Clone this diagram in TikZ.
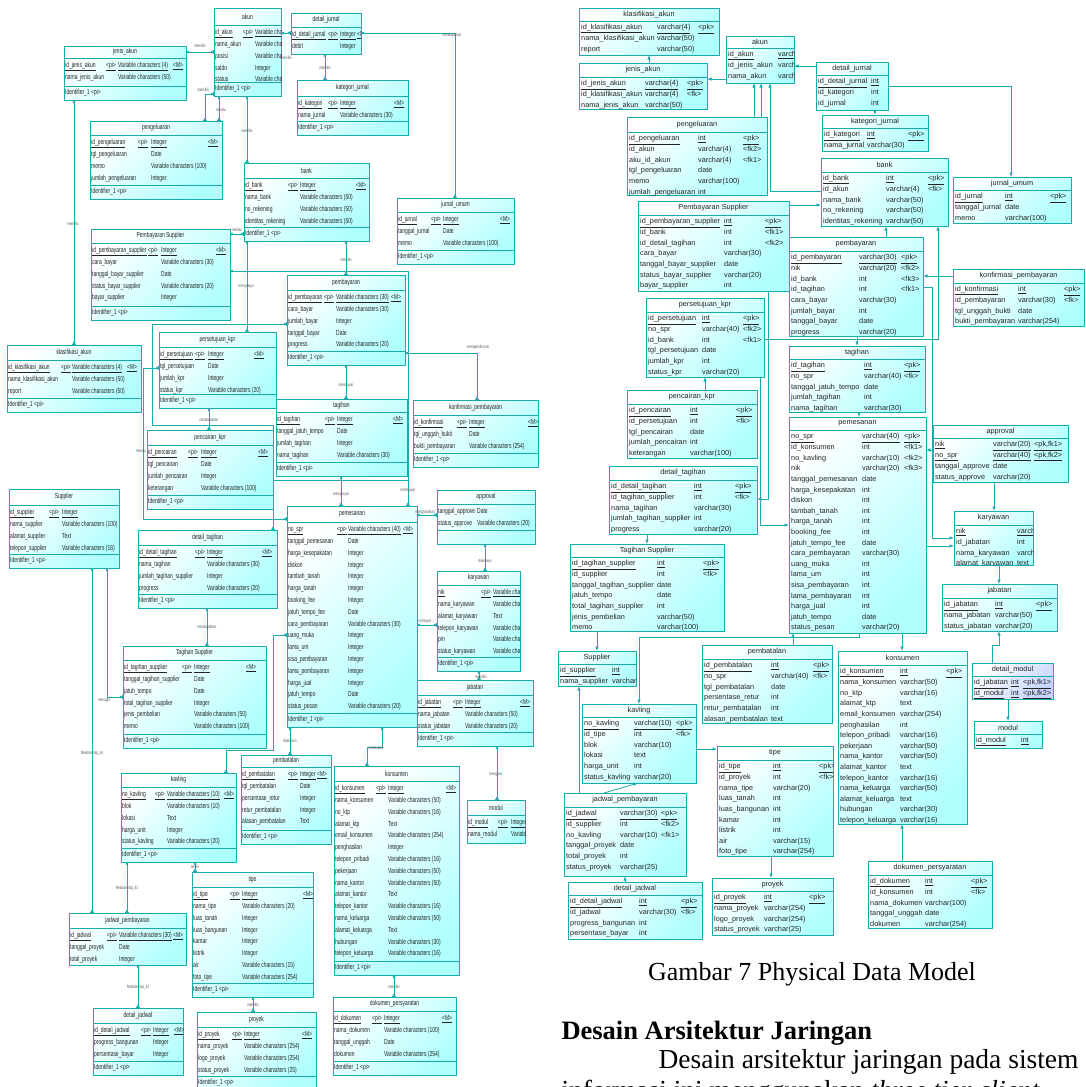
\documentclass[tikz,border=0pt]{standalone}
\usepackage{fontspec}
\usepackage{array}
\setmainfont{Liberation Serif}
\newfontfamily\rsans{Liberation Sans}
\newfontfamily\csans[FakeStretch=0.68]{Liberation Sans}
\usetikzlibrary{arrows.meta}
\setlength{\tabcolsep}{0pt}
% fixed-width cell whose text may run past its edge without wrapping
\newcolumntype{W}[1]{>{\hbox to #1\bgroup}l<{\hss\egroup}}
\definecolor{bd}{RGB}{25,172,172}
\definecolor{cy}{RGB}{175,255,255}
\definecolor{ink}{RGB}{35,35,35}
\definecolor{lav}{RGB}{196,212,255}
\newcommand{\un}[1]{\underline{#1}}
\newcommand{\rfont}{\rsans\fontsize{7.3}{10.6}\selectfont}
\newcommand{\lfont}{\csans\fontsize{7.3}{11.8}\selectfont}
\tikzset{
  ent/.style={draw=bd, line width=0.8pt, top color=white, bottom color=cy, shading angle=45,
    anchor=north west, inner sep=0pt, outer sep=0pt},
  sepl/.style={draw=bd, line width=0.7pt},
  rtxt/.style={font=\rfont, text=ink, inner sep=0pt},
  ltxt/.style={font=\lfont, text=ink, inner sep=0pt},
  rarr/.style={draw=bd, line width=0.8pt, -{Latex[length=4.5pt,width=3.6pt]}},
  lrel/.style={draw=bd, line width=0.6pt,
    arrows={{Bar[width=4.5pt]Circle[open,length=2.6pt,width=2.6pt]}-{Circle[open,length=2.6pt,width=2.6pt]Bar[width=4.5pt]}}},
  lline/.style={draw=bd, line width=0.6pt},
  lab/.style={font=\csans\fontsize{4.6}{5}\selectfont, text=black!65, inner sep=0.3pt},
}
% physical table: name, x, y, width, height, header height, title, columns, rows
\newcommand{\rtab}[9]{%
  \node[ent, minimum width=#4pt, minimum height=#5pt] (#1) at (#2,#3) {};
  \draw[sepl] ([yshift=-#6pt]#1.north west) -- ([yshift=-#6pt]#1.north east);
  \node[rtxt] (#1-h) at ([yshift={-0.5*#6pt}]#1.north) {#7};
  \begin{scope}
    \clip (#1.north west) rectangle (#1.south east);
    \node[rtxt, anchor=north west] (#1-b) at ([xshift=2pt,yshift={-#6pt-1.2pt}]#1.north west)
      {\begin{tabular}{@{}#8@{}}#9\end{tabular}};
  \end{scope}}
% conceptual entity: same arguments
\newcommand{\ltab}[9]{%
  \node[ent, minimum width=#4pt, minimum height=#5pt] (#1) at (#2,#3) {};
  \draw[sepl] ([yshift=-#6pt]#1.north west) -- ([yshift=-#6pt]#1.north east);
  \node[ltxt] (#1-h) at ([yshift={-0.5*#6pt}]#1.north) {#7};
  \begin{scope}
    \clip (#1.north west) rectangle (#1.south east);
    \node[ltxt, anchor=north west] (#1-b) at ([xshift=1pt,yshift={-#6pt-1.3pt}]#1.north west)
      {\begin{tabular}{@{}#8@{}}#9\end{tabular}};
  \end{scope}}
% identifier compartment of a conceptual entity
\newcommand{\idf}[1]{%
  \draw[sepl] ([yshift=14pt]#1.south west) -- ([yshift=14pt]#1.south east);
  \node[ltxt, anchor=west] (#1-i) at ([xshift=1pt,yshift=7pt]#1.south west) {Identifier\_1 <pi>};}

\begin{document}
\catcode`\_=12
\begin{tikzpicture}[x=1pt,y=-1pt]
\useasboundingbox (0,0) rectangle (1086,1087);
\fill[white] (0,0) rectangle (1086,1087);

%================ conceptual data model ================
\ltab{lAkun}{214}{8}{67}{88}{17}{akun}{W{28pt}W{12pt}l}{%
\un{id_akun}&\un{<pi>}&\un{Variable cha}\\
nama_akun&&Variable cha\\
posisi&&Variable cha\\
saldo&&Integer\\
status&&Variable cha\\}
\idf{lAkun}
\ltab{lJenis}{64}{46}{122}{54}{12}{jenis_akun}{W{41pt}W{12pt}W{55pt}l}{%
\un{id_jenis_akun}&\un{<pi>}&\un{Variable characters (4)}&\un{<M>}\\
nama_jenis_akun&&Variable characters (50)&\\}
\idf{lJenis}
\ltab{lPeng}{90}{121}{132}{78}{14}{pengeluaran}{W{47pt}W{13pt}W{57pt}l}{%
\un{id_pengeluaran}&\un{<pi>}&\un{Integer}&\un{<M>}\\
tgl_pengeluaran&&Date&\\
memo&&Variable characters (100)&\\
jumlah_pengeluaran&&Integer&\\}
\idf{lPeng}
\ltab{lPSup}{91}{229}{139}{91}{14}{Pembayaran Supplier}{W{56pt}W{13pt}W{55pt}l}{%
\un{id_pembayaran_supplier}&\un{<pi>}&\un{Integer}&\un{<M>}\\
cara_bayar&&Variable characters (30)&\\
tanggal_bayar_supplier&&Date&\\
status_bayar_supplier&&Variable characters (20)&\\
bayar_supplier&&Integer&\\}
\idf{lPSup}
\ltab{lPers}{159}{332}{117}{76}{15}{persetujuan_kpr}{W{35pt}W{13pt}W{46pt}l}{%
\un{id_persetujuan}&\un{<pi>}&\un{Integer}&\un{<M>}\\
tgl_persetujuan&&Date&\\
jumlah_kpr&&Integer&\\
status_kpr&&Variable characters (20)&\\}
\idf{lPers}
\ltab{lBank}{244}{163}{125}{78}{15}{bank}{W{43pt}W{12pt}W{56pt}l}{%
\un{id_bank}&\un{<pi>}&\un{Integer}&\un{<M>}\\
nama_bank&&Variable characters (50)&\\
no_rekening&&Variable characters (50)&\\
identitas_rekening&&Variable characters (50)&\\}
\idf{lBank}
\ltab{lDJurnal}{291}{13}{70}{41}{14}{detail_jurnal}{W{36pt}W{12pt}W{17pt}l}{%
\un{id_detail_jurnal}&\un{<pi>}&\un{Integer}&\un{<M>}\\
debit&&Integer&\\}
\ltab{lKat}{297}{80}{111}{55}{16}{kategori_jurnal}{W{30pt}W{12pt}W{54pt}l}{%
\un{id_kategori}&\un{<pi>}&\un{Integer}&\un{<M>}\\
nama_jurnal&&Variable characters (30)&\\}
\idf{lKat}
\ltab{lJUmum}{397}{198}{117}{66}{14}{jurnal_umum}{W{33pt}W{12pt}W{57pt}l}{%
\un{id_jurnal}&\un{<pi>}&\un{Integer}&\un{<M>}\\
tanggal_jurnal&&Date&\\
memo&&Variable characters (100)&\\}
\idf{lJUmum}
\ltab{lBayar}{287}{275}{118}{90}{15}{pembayaran}{W{36pt}W{12pt}W{55pt}l}{%
\un{id_pembayaran}&\un{<pi>}&\un{Variable characters (30)}&\un{<M>}\\
cara_bayar&&Variable characters (30)&\\
jumlah_bayar&&Integer&\\
tanggal_bayar&&Date&\\
progress&&Variable characters (20)&\\}
\idf{lBayar}
\ltab{lKlas}{7}{345}{134}{67}{15}{klasifikasi_akun}{W{53pt}W{11pt}W{55pt}l}{%
\un{id_klasifikasi_akun}&\un{<pi>}&\un{Variable characters (4)}&\un{<M>}\\
nama_klasifikasi_akun&&Variable characters (50)&\\
report&&Variable characters (50)&\\}
\idf{lKlas}
\ltab{lPenc}{147}{430}{126}{79}{15}{pencairan_kpr}{W{40pt}W{13pt}W{57pt}l}{%
\un{id_pencairan}&\un{<pi>}&\un{Integer}&\un{<M>}\\
tgl_pencairan&&Date&\\
jumlah_pencairan&&Integer&\\
keterangan&&Variable characters (100)&\\}
\idf{lPenc}
\ltab{lSup}{9}{489}{110}{79}{16}{Supplier}{W{39pt}W{13pt}l}{%
\un{id_supplier}&\un{<pi>}&\un{Integer}\\
nama_supplier&&Variable characters (100)\\
alamat_supplier&&Text\\
telepon_supplier&&Variable characters (16)\\}
\idf{lSup}
\ltab{lDTag}{138}{530}{139}{78}{15}{detail_tagihan}{W{56pt}W{12pt}W{55pt}l}{%
\un{id_detail_tagihan}&\un{<pi>}&\un{Integer}&\un{<M>}\\
nama_tagihan&&Variable characters (30)&\\
jumlah_tagihan_supplier&&Integer&\\
progress&&Variable characters (20)&\\}
\idf{lDTag}
\ltab{lTSup}{123}{646}{143}{102}{14}{Tagihan Supplier}{W{58pt}W{12pt}W{52pt}l}{%
\un{id_tagihan_supplier}&\un{<pi>}&\un{Integer}&\un{<M>}\\
tanggal_tagihan_supplier&&Date&\\
jatuh_tempo&&Date&\\
total_tagihan_supplier&&Integer&\\
jenis_pembelian&&Variable characters (50)&\\
memo&&Variable characters (100)&\\}
\idf{lTSup}
\ltab{lTagihan}{276}{399}{131}{77}{13}{tagihan}{W{48pt}W{12pt}W{56pt}l}{%
\un{id_tagihan}&\un{<pi>}&\un{Integer}&\un{<M>}\\
tanggal_jatuh_tempo&&Date&\\
jumlah_tagihan&&Integer&\\
nama_tagihan&&Variable characters (30)&\\}
\idf{lTagihan}
\ltab{lKonf}{413}{400}{125}{67}{15}{konfirmasi_pembayaran}{W{43pt}W{12pt}W{59pt}l}{%
\un{id_konfirmasi}&\un{<pi>}&\un{Integer}&\un{<M>}\\
tgl_unggah_bukti&&Date&\\
bukti_pembayaran&&Variable characters (254)&\\}
\idf{lKonf}
\ltab{lAppr}{437}{490}{98}{54}{14}{approval}{W{39pt}l}{%
tanggal_approve&Date\\
status_approve&Variable characters (20)\\}
\draw[sepl] ([yshift=14pt]lAppr.south west) -- ([yshift=14pt]lAppr.south east);
\ltab{lPesan}{287}{506}{130}{221}{16}{pemesanan}{W{49pt}W{11pt}W{55pt}l}{%
\un{no_spr}&\un{<pi>}&\un{Variable characters (40)}&\un{<M>}\\
tanggal_pemesanan&&Date&\\
harga_kesepakatan&&Integer&\\
diskon&&Integer&\\
tambah_tanah&&Integer&\\
harga_tanah&&Integer&\\
booking_fee&&Integer&\\
jatuh_tempo_fee&&Date&\\
cara_pembayaran&&Variable characters (30)&\\
uang_muka&&Integer&\\
lama_um&&Integer&\\
sisa_pembayaran&&Integer&\\
lama_pembayaran&&Integer&\\
harga_jual&&Integer&\\
jatuh_tempo&&Date&\\
status_pesan&&Variable characters (20)&\\}
\idf{lPesan}
\ltab{lKar}{437}{571}{83}{100}{14}{karyawan}{W{43pt}W{12pt}l}{%
\un{nik}&\un{<pi>}&\un{Variable cha}\\
nama_karyawan&&Variable cha\\
alamat_karyawan&&Text\\
telepon_karyawan&&Variable cha\\
pin&&Variable cha\\
status_karyawan&&Variable cha\\}
\idf{lKar}
\ltab{lJab}{417}{680}{116}{66}{15}{jabatan}{W{35pt}W{12pt}W{55pt}l}{%
\un{id_jabatan}&\un{<pi>}&\un{Integer}&\un{<M>}\\
nama_jabatan&&Variable characters (50)&\\
status_jabatan&&Variable characters (20)&\\}
\idf{lJab}
\ltab{lKav}{121}{773}{115}{89}{14}{kavling}{W{33pt}W{12pt}W{57pt}l}{%
\un{no_kavling}&\un{<pi>}&\un{Variable characters (10)}&\un{<M>}\\
blok&&Variable characters (10)&\\
lokasi&&Text&\\
harga_unit&&Integer&\\
status_kavling&&Variable characters (20)&\\}
\idf{lKav}
\ltab{lJadwal}{69}{913}{117}{52}{15}{jadwal_pembayaran}{W{37pt}W{12pt}W{54pt}l}{%
\un{id_jadwal}&\un{<pi>}&\un{Variable characters (30)}&\un{<M>}\\
tanggal_proyek&&Date&\\
total_proyek&&Integer&\\}
\ltab{lDJadwal}{93}{1008}{90}{67}{15}{detail_jadwal}{W{47pt}W{12pt}W{21pt}l}{%
\un{id_detail_jadwal}&\un{<pi>}&\un{Integer}&\un{<M>}\\
progress_bangunan&&Integer&\\
persentase_bayar&&Integer&\\}
\idf{lDJadwal}
\ltab{lTipe}{192}{872}{121}{125}{15}{tipe}{W{37pt}W{12pt}W{61pt}l}{%
\un{id_tipe}&\un{<pi>}&\un{Integer}&\un{<M>}\\
nama_tipe&&Variable characters (20)&\\
luas_tanah&&Integer&\\
luas_bangunan&&Integer&\\
kamar&&Integer&\\
listrik&&Integer&\\
air&&Variable characters (15)&\\
foto_tipe&&Variable characters (254)&\\}
\idf{lTipe}
\ltab{lProyek}{197}{1012}{119}{78}{15}{proyek}{W{34pt}W{12pt}W{58pt}l}{%
\un{id_proyek}&\un{<pi>}&\un{Integer}&\un{<M>}\\
nama_proyek&&Variable characters (254)&\\
logo_proyek&&Variable characters (254)&\\
status_proyek&&Variable characters (25)&\\}
\idf{lProyek}
\ltab{lBatal}{241}{755}{90}{89}{12}{pembatalan}{W{46pt}W{12pt}W{17pt}l}{%
\un{id_pembatalan}&\un{<pi>}&\un{Integer}&\un{<M>}\\
tgl_pembatalan&&Date&\\
persentase_retur&&Integer&\\
retur_pembatalan&&Integer&\\
alasan_pembatalan&&Text&\\}
\idf{lBatal}
\ltab{lKons}{334}{766}{125}{209}{15}{konsumen}{W{41pt}W{12pt}W{58pt}l}{%
\un{id_konsumen}&\un{<pi>}&\un{Integer}&\un{<M>}\\
nama_konsumen&&Variable characters (50)&\\
no_ktp&&Variable characters (16)&\\
alamat_ktp&&Text&\\
email_konsumen&&Variable characters (254)&\\
penghasilan&&Integer&\\
telepon_pribadi&&Variable characters (16)&\\
pekerjaan&&Variable characters (50)&\\
nama_kantor&&Variable characters (50)&\\
alamat_kantor&&Text&\\
telepon_kantor&&Variable characters (16)&\\
nama_keluarga&&Variable characters (50)&\\
alamat_keluarga&&Text&\\
hubungan&&Variable characters (30)&\\
telepon_keluarga&&Variable characters (16)&\\}
\idf{lKons}
\ltab{lModul}{467}{800}{58}{43}{15}{modul}{W{30pt}W{13pt}l}{%
\un{id_modul}&\un{<pi>}&\un{Integer}\\
nama_modul&&Variabl\\}
\ltab{lDok}{333}{997}{123}{78}{14}{dokumen_persyaratan}{W{38pt}W{12pt}W{58pt}l}{%
\un{id_dokumen}&\un{<pi>}&\un{Integer}&\un{<M>}\\
nama_dokumen&&Variable characters (100)&\\
tanggal_unggah&&Date&\\
dokumen&&Variable characters (254)&\\}
\idf{lDok}

% relationships of the conceptual model
\draw[lrel] (lJenis.east |- 0,52) -- (lAkun.west |- 0,52);
\node[lab] (t1) at (200,46) {memiliki};
\draw[lrel] (lJenis.south -| 74,0) -- (lKlas.north -| 74,0);
\node[lab] (t2) at (73,224) {memiliki};
\draw[lrel] (lAkun.west |- 0,94) -| (lPeng.north -| 205,0);
\node[lab] (t3) at (203,90) {memiliki};
\draw[lrel] (lAkun.south -| 219,0) -- (lPeng.north -| 219,0);
\node[lab] (t4) at (221,110) {melalui};
\draw[lrel] (lAkun.south -| 247,0) -- (lBank.north -| 247,0);
\node[lab] (t5) at (247,131) {memiliki};
\draw[lrel] (lAkun.east |- 0,33) -- (lDJurnal.west |- 0,33);
\node[lab] (t6) at (286,58) {memiliki};
\draw[lrel] (lDJurnal.south -| 325,0) -- (lKat.north -| 325,0);
\node[lab] (t7) at (325,68) {memiliki};
\draw[lrel] (lDJurnal.east |- 0,33) -| (lJUmum.north -| 455,0);
\node[lab] (t8) at (452,35) {mendapatkan};
\draw[lrel] (lPSup.east |- 0,234) -- (lBank.west |- 0,234);
\node[lab] (t9) at (237,230) {melalui};
\draw[lrel] (lBank.south -| 247,0) -- (lPers.north -| 247,0);
\node[lab] (t10) at (246,286) {menyetujui};
\draw[lrel] (lBank.south -| 346,0) -- (lBayar.north -| 346,0);
\node[lab] (t11) at (346,260) {memiliki};
\draw[lrel] (lBayar.south -| 346,0) -- (lTagihan.north -| 346,0);
\node[lab] (t12) at (346,385) {membayar};
\draw[lrel] (lBayar.east |- 0,353) -| (lKonf.north -| 477,0);
\node[lab] (t13) at (478,347) {mengkonfirmasi};
\draw[lrel] (lTagihan.south -| 341,0) -- (lPesan.north -| 341,0);
\node[lab] (t14) at (341,494) {mempunyai};
\draw[lrel] (lPers.south -| 209,0) -- (lPenc.north -| 209,0);
\node[lab] (t15) at (209,420) {mendapatkan};
\draw[lrel] (lPers.west |- 0,368) -- (143,368) |- (lPesan.west |- 0,519);
\node[lab] (t16) at (141,451) {melalui};
\draw[lrel] (lBayar.west |- 0,324) -- (152,324) -- (152,425) -- (273,425) -- (lDTag.north -| 273,0);
\draw[lrel] (lPSup.east |- 0,271) -- (408,271) -- (lPesan.north -| 408,0);
\draw[lline] (273,480) -- (408,480);
\node[lab] (t32) at (408,490) {membayar};
\draw[lrel] (lDTag.south -| 207,0) -- (lTSup.north -| 207,0);
\node[lab] (t17) at (207,627) {mendapatkan};
\draw[lrel] (lSup.south -| 107,0) |- (lTSup.west |- 0,697);
\node[lab] (t18) at (104,700) {menagih};
\draw[lrel] (lSup.south -| 92,0) -- (lJadwal.north -| 92,0);
\node[lab] (t19) at (92,753) {Relationship_34};
\draw[lrel] (lKav.south -| 127,0) -- (lJadwal.north -| 127,0);
\node[lab] (t20) at (127,888) {Relationship_33};
\draw[lrel] (lJadwal.south -| 138,0) -- (lDJadwal.north -| 138,0);
\node[lab] (t21) at (138,987) {Relationship_32};
\draw[lrel] (lKav.south -| 195,0) -- (lTipe.north -| 195,0);
\node[lab] (t22) at (195,867) {terdiri};
\draw[lrel] (lTipe.south -| 253,0) -- (lProyek.north -| 253,0);
\node[lab] (t23) at (253,1005) {memiliki};
\draw[lrel] (lPesan.west |- 0,635) -| (273,750) -| (lKav.north -| 226,0);
\draw[lrel] (lPesan.south -| 290,0) -- (lBatal.north -| 290,0);
\node[lab] (t24) at (290,741) {dilakukan};
\draw[lrel] (lPesan.south -| 382,0) -- (382,747) -| (lKons.north -| 367,0);
\node[lab] (t25) at (376,748) {melakukan};
\draw[lrel] (lJab.south -| 497,0) -- (lModul.north -| 497,0);
\node[lab] (t26) at (496,774) {mengatur};
\draw[lrel] (lKons.south -| 394,0) -- (lDok.north -| 394,0);
\node[lab] (t27) at (394,987) {memiliki};
\draw[lrel] (lAppr.south -| 485,0) -- (lKar.north -| 485,0);
\node[lab] (t28) at (485,561) {dilakukan};
\draw[lrel] (lKar.south -| 479,0) -- (lJab.north -| 479,0);
\node[lab] (t29) at (481,677) {memiliki};
\draw[lrel] (lPesan.east |- 0,515) -- (lAppr.west |- 0,515);
\node[lab] (t30) at (425,512) {menghasilkan};
\draw[lrel] (lPesan.east |- 0,625) -- (lKar.west |- 0,625);
\node[lab] (t31) at (425,621) {melayani};

%================ physical data model ================
\rtab{rKlas}{579}{8}{140}{47}{13}{klasifikasi_akun}{W{76pt}W{41pt}l}{%
\un{id_klasifikasi_akun}&\un{varchar(4)}&\un{<pk>}\\
nama_klasifikasi_akun&varchar(50)&\\
report&varchar(50)&\\}
\rtab{rJenis}{579}{63}{128}{46}{14}{jenis_akun}{W{64pt}W{42pt}l}{%
\un{id_jenis_akun}&\un{varchar(4)}&\un{<pk>}\\
id_klasifikasi_akun&varchar(4)&<fk>\\
nama_jenis_akun&varchar(50)&\\}
\rtab{rAkun}{726}{36}{68}{47}{12}{akun}{W{50pt}l}{%
\un{id_akun}&\un{varcha}\\
id_jenis_akun&varcha\\
nama_akun&varcha\\}
\rtab{rPeng}{627}{117}{140}{78}{15}{pengeluaran}{W{69pt}W{45pt}l}{%
\un{id_pengeluaran}&\un{int}&\un{<pk>}\\
id_akun&varchar(4)&<fk2>\\
aku_id_akun&varchar(4)&<fk1>\\
tgl_pengeluaran&date&\\
memo&varchar(100)&\\
jumlah_pengeluaran&int&\\}
\rtab{rPSup}{638}{201}{151}{90}{14}{Pembayaran Supplier}{W{84pt}W{41pt}l}{%
\un{id_pembayaran_supplier}&\un{int}&\un{<pk>}\\
id_bank&int&<fk1>\\
id_detail_tagihan&int&<fk2>\\
cara_bayar&varchar(30)&\\
tanggal_bayar_supplier&date&\\
status_bayar_supplier&varchar(20)&\\
bayar_supplier&int&\\}
\rtab{rPers}{646}{298}{118}{79}{14}{persetujuan_kpr}{W{54pt}W{41pt}l}{%
\un{id_persetujuan}&\un{int}&\un{<pk>}\\
no_spr&varchar(40)&<fk2>\\
id_bank&int&<fk1>\\
tgl_persetujuan&date&\\
jumlah_kpr&int&\\
status_kpr&varchar(20)&\\}
\rtab{rPenc}{627}{390}{130}{68}{14}{pencairan_kpr}{W{61pt}W{46pt}l}{%
\un{id_pencairan}&\un{int}&\un{<pk>}\\
id_persetujuan&int&<fk>\\
tgl_pencairan&date&\\
jumlah_pencairan&int&\\
keterangan&varchar(100)&\\}
\rtab{rDTag}{609}{466}{148}{68}{14}{detail_tagihan}{W{83pt}W{41pt}l}{%
\un{id_detail_tagihan}&\un{int}&\un{<pk>}\\
id_tagihan_supplier&int&<fk>\\
nama_tagihan&varchar(30)&\\
jumlah_tagihan_supplier&int&\\
progress&varchar(20)&\\}
\rtab{rTSup}{570}{544}{154}{87}{13}{Tagihan Supplier}{W{85pt}W{46pt}l}{%
\un{id_tagihan_supplier}&\un{int}&\un{<pk>}\\
id_supplier&int&<fk>\\
tanggal_tagihan_supplier&date&\\
jatuh_tempo&date&\\
total_tagihan_supplier&int&\\
jenis_pembelian&varchar(50)&\\
memo&varchar(100)&\\}
\rtab{rSup}{558}{651}{78}{35}{13}{Supplier}{W{52pt}l}{%
\un{id_supplier}&\un{int}\\
nama_supplier&varchar\\}
\rtab{rKav}{582}{704}{114}{79}{13}{kavling}{W{50pt}W{42pt}l}{%
\un{no_kavling}&\un{varchar(10)}&\un{<pk>}\\
id_tipe&int&<fk>\\
blok&varchar(10)&\\
lokasi&text&\\
harga_unit&int&\\
status_kavling&varchar(20)&\\}
\rtab{rBatal}{702}{645}{130}{78}{14}{pembatalan}{W{67pt}W{42pt}l}{%
\un{id_pembatalan}&\un{int}&\un{<pk>}\\
no_spr&varchar(40)&<fk>\\
tgl_pembatalan&date&\\
persentase_retur&int&\\
retur_pembatalan&int&\\
alasan_pembatalan&text&\\}
\rtab{rJadwal}{564}{793}{122}{83}{14}{jadwal_pembayaran}{W{54pt}W{41pt}l}{%
\un{id_jadwal}&\un{varchar(30)}&\un{<pk>}\\
id_supplier&int&<fk2>\\
no_kavling&varchar(10)&<fk1>\\
tanggal_proyek&date&\\
total_proyek&int&\\
status_proyek&varchar(25)&\\}
\rtab{rDJadwal}{568}{882}{134}{57}{13}{detail_jadwal}{W{69pt}W{42pt}l}{%
\un{id_detail_jadwal}&\un{int}&\un{<pk>}\\
id_jadwal&varchar(30)&<fk>\\
progress_bangunan&int&\\
persentase_bayar&int&\\}
\rtab{rTipe}{717}{746}{116}{110}{14}{tipe}{W{54pt}W{46pt}l}{%
\un{id_tipe}&\un{int}&\un{<pk>}\\
id_proyek&int&<fk>\\
nama_tipe&varchar(20)&\\
luas_tanah&int&\\
luas_bangunan&int&\\
kamar&int&\\
listrik&int&\\
air&varchar(15)&\\
foto_tipe&varchar(254)&\\}
\rtab{rProyek}{712}{878}{121}{57}{13}{proyek}{W{50pt}W{45pt}l}{%
\un{id_proyek}&\un{int}&\un{<pk>}\\
nama_proyek&varchar(254)&\\
logo_proyek&varchar(254)&\\
status_proyek&varchar(25)&\\}
\rtab{rDJurnal}{816}{62}{72}{48}{13}{detail_jurnal}{W{53pt}l}{%
\un{id_detail_jurnal}&\un{int}\\
id_kategori&int\\
id_jurnal&int\\}
\rtab{rKat}{822}{115}{106}{36}{13}{kategori_jurnal}{W{43pt}W{41pt}l}{%
\un{id_kategori}&\un{int}&\un{<pk>}\\
nama_jurnal&varchar(30)&\\}
\rtab{rBank}{821}{158}{127}{68}{14}{bank}{W{63pt}W{42pt}l}{%
\un{id_bank}&\un{int}&\un{<pk>}\\
id_akun&varchar(4)&<fk>\\
nama_bank&varchar(50)&\\
no_rekening&varchar(50)&\\
identitas_rekening&varchar(50)&\\}
\rtab{rJUmum}{953}{177}{118}{46}{13}{jurnal_umum}{W{50pt}W{45pt}l}{%
\un{id_jurnal}&\un{int}&\un{<pk>}\\
tanggal_jurnal&date&\\
memo&varchar(100)&\\}
\rtab{rBayar}{789}{237}{134}{99}{14}{pembayaran}{W{68pt}W{42pt}l}{%
\un{id_pembayaran}&\un{varchar(30)}&\un{<pk>}\\
nik&varchar(20)&<fk2>\\
id_bank&int&<fk3>\\
id_tagihan&int&<fk1>\\
cara_bayar&varchar(30)&\\
jumlah_bayar&int&\\
tanggal_bayar&date&\\
progress&varchar(20)&\\}
\rtab{rKonf}{953}{269}{131}{57}{14}{konfirmasi_pembayaran}{W{63pt}W{46pt}l}{%
\un{id_konfirmasi}&\un{int}&\un{<pk>}\\
id_pembayaran&varchar(30)&<fk>\\
tgl_unggah_bukti&date&\\
bukti_pembayaran&varchar(254)&\\}
\rtab{rTagihan}{789}{346}{136}{66}{13}{tagihan}{W{73pt}W{40pt}l}{%
\un{id_tagihan}&\un{int}&\un{<pk>}\\
no_spr&varchar(40)&<fk>\\
tanggal_jatuh_tempo&date&\\
jumlah_tagihan&int&\\
nama_tagihan&varchar(30)&\\}
\rtab{rPesan}{789}{417}{137}{216}{13}{pemesanan}{W{71pt}W{42pt}l}{%
\un{no_spr}&\un{varchar(40)}&\un{<pk>}\\
id_konsumen&int&<fk1>\\
no_kavling&varchar(10)&<fk2>\\
nik&varchar(20)&<fk3>\\
tanggal_pemesanan&date&\\
harga_kesepakatan&int&\\
diskon&int&\\
tambah_tanah&int&\\
harga_tanah&int&\\
booking_fee&int&\\
jatuh_tempo_fee&date&\\
cara_pembayaran&varchar(30)&\\
uang_muka&int&\\
lama_um&int&\\
sisa_pembayaran&int&\\
lama_pembayaran&int&\\
harga_jual&int&\\
jatuh_tempo&date&\\
status_pesan&varchar(20)&\\}
\rtab{rAppr}{933}{425}{135}{57}{13}{approval}{W{58pt}W{41pt}l}{%
\un{nik}&\un{varchar(20)}&\un{<pk,fk1>}\\
\un{no_spr}&\un{varchar(40)}&\un{<pk,fk2>}\\
tanggal_approve&date&\\
status_approve&varchar(20)&\\}
\rtab{rKar}{954}{511}{79}{54}{14}{karyawan}{W{61pt}l}{%
\un{nik}&\un{varch}\\
id_jabatan&int\\
nama_karyawan&varch\\
alamat_karyawan&text\\}
\rtab{rJab}{942}{584}{115}{47}{14}{jabatan}{W{51pt}W{41pt}l}{%
\un{id_jabatan}&\un{int}&\un{<pk>}\\
nama_jabatan&varchar(50)&\\
status_jabatan&varchar(20)&\\}
\rtab{rKons}{838}{651}{129}{173}{14}{konsumen}{W{60pt}W{46pt}l}{%
\un{id_konsumen}&\un{int}&\un{<pk>}\\
nama_konsumen&varchar(50)&\\
no_ktp&varchar(16)&\\
alamat_ktp&text&\\
email_konsumen&varchar(254)&\\
penghasilan&int&\\
telepon_pribadi&varchar(16)&\\
pekerjaan&varchar(50)&\\
nama_kantor&varchar(50)&\\
alamat_kantor&text&\\
telepon_kantor&varchar(16)&\\
nama_keluarga&varchar(50)&\\
alamat_keluarga&text&\\
hubungan&varchar(30)&\\
telepon_keluarga&varchar(16)&\\}
{\colorlet{cy}{lav}
\rtab{rDModul}{972}{663}{81}{36}{13}{detail_modul}{W{37pt}W{12pt}l}{%
\un{id_jabatan}&\un{int}&\un{<pk,fk1>}\\
\un{id_modul}&\un{int}&\un{<pk,fk2>}\\}}
\rtab{rModul}{974}{721}{68}{27}{13}{modul}{W{45pt}l}{%
\un{id_modul}&\un{int}\\}
\rtab{rDok}{868}{861}{124}{67}{14}{dokumen_persyaratan}{W{55pt}W{46pt}l}{%
\un{id_dokumen}&\un{int}&\un{<pk>}\\
id_konsumen&int&<fk>\\
nama_dokumen&varchar(100)&\\
tanggal_unggah&date&\\
dokumen&varchar(254)&\\}

% references of the physical model
\draw[rarr] (rJenis.north -| 649,0) -- (rKlas.south -| 649,0);
\draw[rarr] (rAkun.west |- 0,79) -- (rJenis.east |- 0,79);
\draw[rarr] (rPeng.north -| 754,0) -- (rAkun.south -| 754,0);
\draw[rarr] (rPeng.north -| 761,0) -- (rAkun.south -| 761,0);
\draw[rarr] (rBank.west |- 0,191) -| (rAkun.south -| 770,0);
\draw[rarr] (rPSup.east |- 0,205) -- (rBank.west |- 0,205);
\draw[rarr] (rDJurnal.east |- 0,86) -| (rJUmum.north -| 1011,0);
\draw[rarr] (rDJurnal.south -| 875,0) -- (rKat.north -| 875,0);
\draw[rarr] (rDJurnal.west |- 0,66) -- (rAkun.east |- 0,66);
\draw[rarr] (rBayar.north -| 886,0) -- (rBank.south -| 886,0);
\draw[rarr] (rPers.east |- 0,339) -| (rBank.south -| 938,0);
\draw[rarr] (rBayar.south -| 857,0) -- (rTagihan.north -| 857,0);
\draw[rarr] (rKonf.west |- 0,276) -- (rBayar.east |- 0,276);
\draw[rarr] (rBayar.east |- 0,287) -| (932,538) -- (rKar.west |- 0,538);
\draw[rarr] (rAppr.west |- 0,450) -- (rPesan.east |- 0,450);
\draw[rarr] (rAppr.south -| 994,0) -- (rKar.north -| 994,0);
\draw[rarr] (rKar.south -| 999,0) -- (rJab.north -| 999,0);
\draw[rarr] (rDModul.north -| 992,0) |- (999,645) -- (rJab.south -| 999,0);
\draw[rarr] (rDModul.south -| 1008,0) -- (rModul.north -| 1008,0);
\draw[rarr] (rPesan.east |- 0,546) -- (rKar.west |- 0,546);
\draw[rarr] (rPesan.south -| 902,0) -- (rKons.north -| 902,0);
\draw[rarr] (rDok.north -| 902,0) -- (rKons.south -| 902,0);
\draw[rarr] (rTagihan.south -| 859,0) -- (rPesan.north -| 859,0);
\draw[rarr] (rPesan.south -| 859,0) -- (859,637) -| (rKav.north -| 639,0);
\draw[rarr] (rBatal.north -| 793,0) -- (rPesan.south -| 793,0);
\draw[rarr] (rPenc.north -| 705,0) -- (rPers.south -| 705,0);
\draw[rarr] (rPers.south -| 760,0) |- (rPesan.west |- 0,525);
\draw[rarr] (rPSup.south -| 768,0) |- (rDTag.east |- 0,499);
\draw[rarr] (rDTag.south -| 647,0) -- (rTSup.north -| 647,0);
\draw[rarr] (rTSup.south -| 597,0) -- (rSup.north -| 597,0);
\draw[rarr] (rJadwal.north -| 579,0) -- (rSup.south -| 579,0);
\draw[rarr] (rJadwal.north -| 604,0) -- (rKav.south -| 638,0);
\draw[rarr] (rKav.east |- 0,749) -- (rTipe.west |- 0,749);
\draw[rarr] (rTipe.south -| 771,0) -- (rProyek.north -| 771,0);
\draw[rarr] (rDJadwal.north -| 625,0) -- (rJadwal.south -| 625,0);

%================ page text ================
\node[anchor=base, font=\fontsize{26}{30}\selectfont] (cap) at (812,980) {Gambar 7 Physical Data Model};
\node[anchor=base west, font=\bfseries\fontsize{26.5}{30}\selectfont] (head) at (558,1039) {Desain Arsitektur Jaringan};
\node[anchor=base west, font=\fontsize{27.5}{30}\selectfont] (par1) at (655,1068) {Desain arsitektur jaringan pada sistem};
\node[anchor=base west, font=\fontsize{27.5}{30}\selectfont] (par2) at (558,1099) {informasi ini menggunakan \textit{three tier client}};
\end{tikzpicture}
\end{document}
